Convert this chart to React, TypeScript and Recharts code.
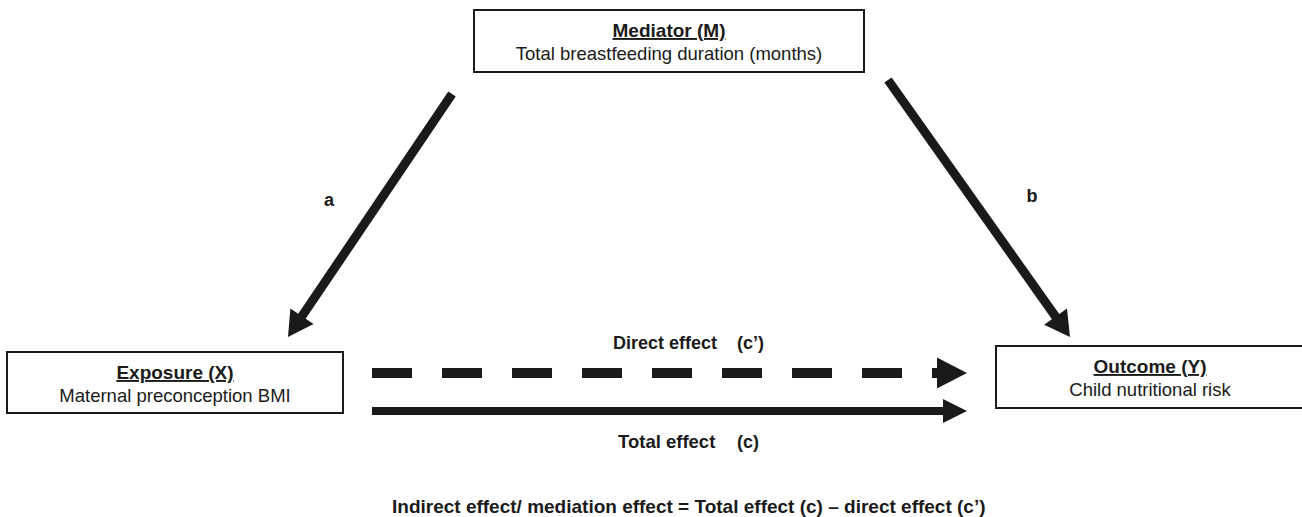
import React from "react";
import { ComposedChart, Scatter, XAxis, YAxis, ReferenceLine } from "recharts";

// ---- content (text) ----
const nodeTitles = ["Mediator (M)", "Exposure (X)", "Outcome (Y)"];
const nodeDescriptions = [
  "Total breastfeeding duration (months)",
  "Maternal preconception BMI",
  "Child nutritional risk",
];
const pathLetters = ["a", "b"];
const effectNames = ["Direct effect", "Total effect"];
const effectSymbols = ["(c\u2019)", "(c)"];
const formulaText =
  "Indirect effect/ mediation effect = Total effect (c) \u2013 direct effect (c\u2019)";

// ---- diagram layout (diagram coordinate system) ----
const W = 1302;
const H = 517;
const nodeLayout = [
  { x: 669, y: 41, w: 390, h: 62 },
  { x: 175, y: 382.5, w: 336, h: 61 },
  { x: 1150, y: 377, w: 308, h: 62 },
];
const arrowLayout = [
  { from: { x: 452, y: 94 }, to: { x: 288, y: 337 }, w: 9, headLen: 25, headW: 28, dash: "" },
  { from: { x: 888, y: 80 }, to: { x: 1070, y: 337 }, w: 9, headLen: 25, headW: 28, dash: "" },
  { from: { x: 372, y: 373 }, to: { x: 967, y: 373 }, w: 10, headLen: 30, headW: 31, dash: "40 30" },
  { from: { x: 372, y: 411 }, to: { x: 967, y: 411 }, w: 8, headLen: 24, headW: 24, dash: "" },
];
const textLayout = [
  { x: 329, y: 206, anchor: "middle", size: 18 },
  { x: 1032, y: 202, anchor: "middle", size: 18 },
  { x: 613, y: 349, anchor: "start", size: 18 },
  { x: 737, y: 349, anchor: "start", size: 18 },
  { x: 618, y: 448, anchor: "start", size: 18.5 },
  { x: 737, y: 448, anchor: "start", size: 18 },
  { x: 392, y: 513, anchor: "start", size: 19 },
];

const INK = "#1a1a1a";
const FONT = "'Liberation Sans', Arial, Helvetica, sans-serif";

const nodeData = nodeTitles.map((t, i) => ({
  x: nodeLayout[i].x,
  y: nodeLayout[i].y,
  title: t,
  desc: nodeDescriptions[i],
  w: nodeLayout[i].w,
  h: nodeLayout[i].h,
}));

const annotationTexts = [
  pathLetters[0],
  pathLetters[1],
  effectNames[0],
  effectSymbols[0],
  effectNames[1],
  effectSymbols[1],
  formulaText,
];
const annotationData = annotationTexts.map((t, i) => ({
  x: textLayout[i].x,
  y: textLayout[i].y,
  text: t,
  anchor: textLayout[i].anchor,
  size: textLayout[i].size,
}));

const NodeShape = (props: any) => {
  const { cx, cy, payload } = props;
  const left = cx - payload.w / 2;
  const top = cy - payload.h / 2;
  return (
    <g>
      <rect x={left} y={top} width={payload.w} height={payload.h} fill="#fff" stroke={INK} strokeWidth={2} />
      <text
        x={cx}
        y={top + 27}
        textAnchor="middle"
        fontFamily={FONT}
        fontWeight="bold"
        fontSize={19}
        fill={INK}
        style={{ textDecoration: "underline" }}
      >
        {payload.title}
      </text>
      <text x={cx} y={top + 50} textAnchor="middle" fontFamily={FONT} fontSize={18.5} fill={INK}>
        {payload.desc}
      </text>
    </g>
  );
};

const TextShape = (props: any) => {
  const { cx, cy, payload } = props;
  return (
    <text
      x={cx}
      y={cy}
      textAnchor={payload.anchor}
      fontFamily={FONT}
      fontWeight="bold"
      fontSize={payload.size}
      fill={INK}
    >
      {payload.text}
    </text>
  );
};

const makeArrowShape = (a: any) => (props: any) => {
  const { x1, y1, x2, y2 } = props;
  const dx = x2 - x1;
  const dy = y2 - y1;
  const len = Math.sqrt(dx * dx + dy * dy) || 1;
  const ux = dx / len;
  const uy = dy / len;
  const nx = -uy;
  const ny = ux;
  const bx = x2 - ux * a.headLen;
  const by = y2 - uy * a.headLen;
  const hw = a.headW / 2;
  const pts = `${x2},${y2} ${bx + nx * hw},${by + ny * hw} ${bx - nx * hw},${by - ny * hw}`;
  return (
    <g>
      <line
        x1={x1}
        y1={y1}
        x2={bx + ux * 1}
        y2={by + uy * 1}
        stroke={INK}
        strokeWidth={a.w}
        strokeDasharray={a.dash || undefined}
        strokeLinecap="butt"
      />
      <polygon points={pts} fill={INK} />
    </g>
  );
};

export default function App() {
  return (
    <div style={{ width: W, height: H, background: "#fff" }}>
      <style>{"body{margin:0;background:#fff}"}</style>
      <ComposedChart width={W} height={H} margin={{ top: 0, right: 0, bottom: 0, left: 0 }}>
        <XAxis type="number" dataKey="x" domain={[0, W]} hide allowDataOverflow />
        <YAxis type="number" dataKey="y" domain={[0, H]} reversed hide allowDataOverflow />
        {arrowLayout.map((a, i) => (
          <ReferenceLine
            key={i}
            segment={[a.from, a.to]}
            ifOverflow="visible"
            shape={makeArrowShape(a)}
          />
        ))}
        <Scatter data={nodeData} shape={NodeShape} isAnimationActive={false} />
        <Scatter data={annotationData} shape={TextShape} isAnimationActive={false} />
      </ComposedChart>
    </div>
  );
}
